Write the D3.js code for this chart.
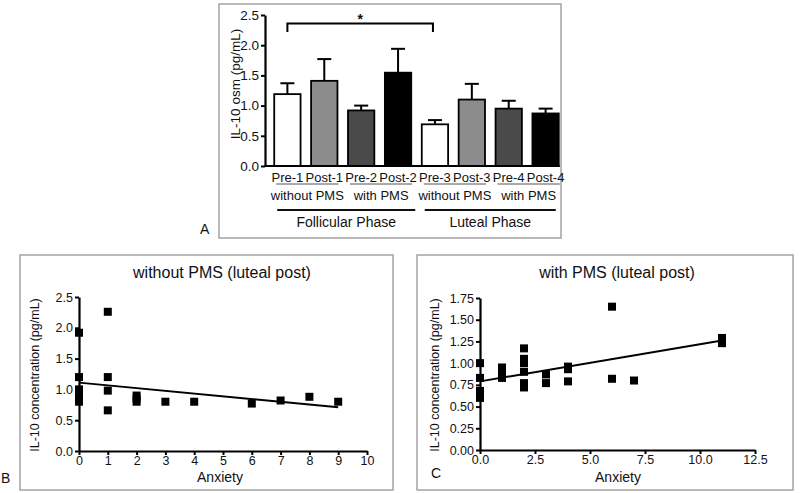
<!DOCTYPE html>
<html lang="en">
<head>
<meta charset="utf-8">
<title>IL-10 osm and anxiety</title>
<script src="https://cdn.jsdelivr.net/npm/d3@7"></script>
<style>
  body { margin: 0; background: #fff; }
  text { font-family: "Liberation Sans", Arial, sans-serif; fill: #111; }
</style>
</head>
<body>
<script>
// ---- panel A data
var barLabels = ["Pre-1", "Post-1", "Pre-2", "Post-2", "Pre-3", "Post-3", "Pre-4", "Post-4"];
var barMeans = [1.19, 1.41, 0.92, 1.545, 0.69, 1.10, 0.95, 0.87];
var barErrTop = [1.37, 1.77, 1.00, 1.94, 0.76, 1.36, 1.08, 0.95];
var barFills = ["#ffffff", "#8c8c8c", "#4a4a4a", "#000000", "#ffffff", "#8c8c8c", "#4a4a4a", "#000000"];
var groupLabels = ["without PMS", "with PMS", "without PMS", "with PMS"];
var phaseLabels = ["Follicular Phase", "Luteal Phase"];
var yTicksA = [0, 0.5, 1.0, 1.5, 2.0, 2.5];

// ---- panel B data (without PMS, luteal post)
var anxB  = [0, 0, 0, 0, 0, 0, 0, 1, 1, 1, 1, 2, 2, 2, 3, 4, 6, 7, 8, 9];
var il10B = [1.92, 1.20, 1.00, 0.95, 0.90, 0.85, 0.80, 2.26, 1.20, 0.98, 0.66, 0.90, 0.85, 0.80, 0.80, 0.80, 0.77, 0.82, 0.88, 0.80];
var fitB = [[0, 1.11], [9, 0.71]];
var xTicksB = [0, 1, 2, 3, 4, 5, 6, 7, 8, 9, 10];
var yTicksB = [0, 0.5, 1.0, 1.5, 2.0, 2.5];

// ---- panel C data (with PMS, luteal post)
var anxC  = [0, 0, 0, 0, 0, 1, 1, 1, 1, 2, 2, 2, 2, 2, 2, 3, 3, 4, 4, 4, 6, 6, 7, 11, 11, 11];
var il10C = [1.00, 0.83, 0.68, 0.64, 0.60, 0.95, 0.90, 0.85, 0.83, 1.17, 1.05, 1.00, 0.90, 0.77, 0.72, 0.87, 0.77, 0.96, 0.93, 0.79, 1.65, 0.82, 0.80, 1.29, 1.26, 1.23];
var fitC = [[0, 0.79], [11, 1.26]];
var xTicksC = [0, 2.5, 5.0, 7.5, 10.0, 12.5];
var yTicksC = [0, 0.25, 0.5, 0.75, 1.0, 1.25, 1.5, 1.75];

var svg = d3.select("body").append("svg")
    .attr("width", 800)
    .attr("height", 493);

function frame(x0, y0, x1, y1) {
    svg.append("rect")
        .attr("x", x0).attr("y", y0)
        .attr("width", x1 - x0).attr("height", y1 - y0)
        .attr("fill", "none")
        .attr("stroke", "#a3a3a3")
        .attr("stroke-width", 1.5);
}

function yTitle(str, x, y, size) {
    svg.append("text")
        .attr("transform", "translate(" + x + "," + y + ") rotate(-90)")
        .attr("text-anchor", "middle")
        .attr("font-size", size)
        .text(str);
}

function styleAxis(g) {
    g.select(".domain").attr("stroke", "#000").attr("stroke-width", 2.2);
    g.selectAll(".tick line").attr("stroke", "#000").attr("stroke-width", 2);
    g.selectAll(".tick text").attr("font-size", "12.5px").attr("fill", "#111")
        .attr("font-family", "'Liberation Sans', Arial, sans-serif");
}

// ================= Panel A =================
frame(219, 4, 561, 238);

var xA = d3.scaleBand()
    .domain(barLabels)
    .range([265, 568])
    .paddingInner(0.286)
    .paddingOuter(0.25);

var yA = d3.scaleLinear().domain([0, 2.5]).range([166, 15]);

var gA = svg.append("g");

// error bars (drawn first, bar covers the lower part)
barLabels.forEach(function (lab, i) {
    var cx = xA(lab) + xA.bandwidth() / 2;
    gA.append("line")
        .attr("x1", cx).attr("x2", cx)
        .attr("y1", yA(barMeans[i])).attr("y2", yA(barErrTop[i]))
        .attr("stroke", "#000").attr("stroke-width", 2);
    gA.append("line")
        .attr("x1", cx - 7).attr("x2", cx + 7)
        .attr("y1", yA(barErrTop[i])).attr("y2", yA(barErrTop[i]))
        .attr("stroke", "#000").attr("stroke-width", 2);
});

gA.selectAll("rect.bar")
    .data(barLabels)
    .enter()
    .append("rect")
    .attr("class", "bar")
    .attr("x", function (d) { return xA(d); })
    .attr("y", function (d, i) { return yA(barMeans[i]); })
    .attr("width", xA.bandwidth())
    .attr("height", function (d, i) { return yA(0) - yA(barMeans[i]); })
    .attr("fill", function (d, i) { return barFills[i]; })
    .attr("stroke", "#000")
    .attr("stroke-width", 1.8);

var axA = svg.append("g")
    .attr("transform", "translate(265,0)")
    .call(d3.axisLeft(yA).tickValues(yTicksA).tickFormat(d3.format(".1f")).tickSize(4).tickSizeOuter(0).tickPadding(2));
styleAxis(axA);
axA.selectAll(".tick text").attr("font-size", "13.5px");

// baseline
svg.append("line")
    .attr("x1", 265).attr("x2", xA(barLabels[7]) + xA.bandwidth() + 1)
    .attr("y1", yA(0)).attr("y2", yA(0))
    .attr("stroke", "#000").attr("stroke-width", 2.2);

yTitle("IL-10 osm (pg/mL)", 240, 84, "13.5px");

// bar labels
svg.selectAll("text.barlab")
    .data(barLabels)
    .enter()
    .append("text")
    .attr("class", "barlab")
    .attr("x", function (d) { return xA(d) + xA.bandwidth() / 2; })
    .attr("y", 181.5)
    .attr("text-anchor", "middle")
    .attr("font-size", "13px")
    .text(function (d) { return d; });

// group labels with thin underline
groupLabels.forEach(function (lab, k) {
    var left = xA(barLabels[2 * k]) + 2;
    var right = xA(barLabels[2 * k + 1]) + xA.bandwidth() + 1;
    svg.append("line")
        .attr("x1", left).attr("x2", right)
        .attr("y1", 184).attr("y2", 184)
        .attr("stroke", "#555").attr("stroke-width", 1);
    svg.append("text")
        .attr("x", (left + right) / 2)
        .attr("y", 200)
        .attr("text-anchor", "middle")
        .attr("font-size", "13px")
        .text(lab);
});

// phase labels with thick underline
phaseLabels.forEach(function (lab, k) {
    var left = xA(barLabels[4 * k]) + 3;
    var right = xA(barLabels[4 * k + 3]) + xA.bandwidth() + 4;
    if (k === 1) right = xA(barLabels[7]) + xA.bandwidth() - 3;
    svg.append("line")
        .attr("x1", left).attr("x2", right)
        .attr("y1", 210).attr("y2", 210)
        .attr("stroke", "#111").attr("stroke-width", 2);
    svg.append("text")
        .attr("x", (left + right) / 2)
        .attr("y", 227)
        .attr("text-anchor", "middle")
        .attr("font-size", "14px")
        .text(lab);
});

// significance bracket Pre-1 vs Pre-3
var bx1 = xA("Pre-1") + xA.bandwidth() / 2;
var bx2 = xA("Pre-3") + xA.bandwidth() / 2 - 2;
svg.append("path")
    .attr("d", "M" + bx1 + ",32 V23.5 H" + bx2 + " V32")
    .attr("fill", "none").attr("stroke", "#000").attr("stroke-width", 2);
svg.append("text")
    .attr("x", (bx1 + bx2) / 2)
    .attr("y", 24)
    .attr("text-anchor", "middle")
    .attr("font-size", "14px")
    .attr("font-weight", "bold")
    .text("*");

svg.append("text").attr("x", 200).attr("y", 234).attr("font-size", "14px").text("A");

// ================= Scatter panels =================
function scatterPanel(cfg) {
    frame(cfg.box[0], cfg.box[1], cfg.box[2], cfg.box[3]);

    var x = d3.scaleLinear().domain(cfg.xDomain).range(cfg.xRange);
    var y = d3.scaleLinear().domain(cfg.yDomain).range(cfg.yRange);

    var g = svg.append("g");

    g.selectAll("rect.pt")
        .data(cfg.xs)
        .enter()
        .append("rect")
        .attr("class", "pt")
        .attr("x", function (d) { return x(d) - 4; })
        .attr("y", function (d, i) { return y(cfg.ys[i]) - 4; })
        .attr("width", 8)
        .attr("height", 8)
        .attr("fill", "#000");

    g.append("line")
        .attr("x1", x(cfg.fit[0][0])).attr("y1", y(cfg.fit[0][1]))
        .attr("x2", x(cfg.fit[1][0])).attr("y2", y(cfg.fit[1][1]))
        .attr("stroke", "#000").attr("stroke-width", 2);

    var ax = svg.append("g")
        .attr("transform", "translate(0," + cfg.yRange[0] + ")")
        .call(d3.axisBottom(x).tickValues(cfg.xTicks).tickFormat(d3.format(cfg.xFmt)).tickSize(4).tickSizeOuter(0).tickPadding(1));
    styleAxis(ax);

    var ay = svg.append("g")
        .attr("transform", "translate(" + cfg.xRange[0] + ",0)")
        .call(d3.axisLeft(y).tickValues(cfg.yTicks).tickFormat(d3.format(cfg.yFmt)).tickSize(4).tickSizeOuter(0).tickPadding(2));
    styleAxis(ay);

    svg.append("text")
        .attr("x", cfg.titleX).attr("y", cfg.box[1] + 23)
        .attr("text-anchor", "middle")
        .attr("font-size", "16px")
        .text(cfg.title);

    svg.append("text")
        .attr("x", cfg.xTitleX).attr("y", 482)
        .attr("text-anchor", "middle")
        .attr("font-size", "14px")
        .text("Anxiety");

    yTitle("IL-10 concentration (pg/mL)", cfg.yTitleX, 375, "12.5px");

    svg.append("text")
        .attr("x", cfg.letter[0]).attr("y", cfg.letter[1])
        .attr("font-size", "14px")
        .text(cfg.letter[2]);
}

scatterPanel({
    box: [20, 255, 393, 490],
    xs: anxB, ys: il10B, fit: fitB,
    xDomain: [0, 10], xRange: [79, 367],
    yDomain: [0, 2.5], yRange: [451, 297],
    xTicks: xTicksB, yTicks: yTicksB, xFmt: "d", yFmt: ".1f",
    title: "without PMS (luteal post)", titleX: 222,
    xTitleX: 220, yTitleX: 39,
    letter: [1, 483, "B"]
});

scatterPanel({
    box: [417, 255, 793, 490],
    xs: anxC, ys: il10C, fit: fitC,
    xDomain: [0, 12.5], xRange: [480, 755],
    yDomain: [0, 1.75], yRange: [450, 298],
    xTicks: xTicksC, yTicks: yTicksC, xFmt: ".1f", yFmt: ".2f",
    title: "with PMS (luteal post)", titleX: 617,
    xTitleX: 618, yTitleX: 439,
    letter: [431, 478, "C"]
});
</script>
</body>
</html>
